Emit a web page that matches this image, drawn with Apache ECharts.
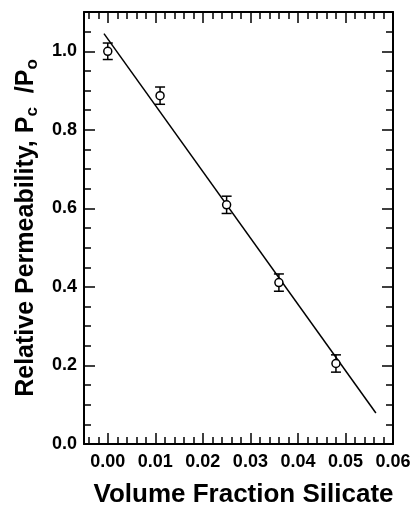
<!DOCTYPE html>
<html>
<head>
<meta charset="utf-8">
<script src="https://cdn.jsdelivr.net/npm/echarts@6/dist/echarts.min.js"></script>
<style>
  html, body { margin: 0; padding: 0; background: #fff; }
  #box { width: 414px; height: 505px; }
</style>
</head>
<body>
<div id="box"></div>
<script>
// measured points (volume fraction, relative permeability, error)
var volumeFraction = [0.000, 0.011, 0.025, 0.036, 0.048];
var permeability = [1.000, 0.887, 0.609, 0.411, 0.205];
var errorBar = [0.021, 0.022, 0.022, 0.022, 0.022];

// linear fit end points
var fitX = [-0.0008, 0.0564];
var fitY = [1.045, 0.079];

var xTickLabels = [0.00, 0.01, 0.02, 0.03, 0.04, 0.05, 0.06];
var yTickLabels = [0.0, 0.2, 0.4, 0.6, 0.8, 1.0];

// minor ticks
var xMinor = [];
for (var i = -2; i <= 29; i++) {
    if (i % 5 !== 0) xMinor.push(Math.round(i * 2) / 1000);
}
var yMinor = [];
for (var j = 1; j <= 21; j++) {
    if (j % 4 !== 0) yMinor.push(Math.round(j * 5) / 100);
}

var FONT = 'Liberation Sans';
var X_MIN = -0.005, X_MAX = 0.06, Y_MIN = 0, Y_MAX = 1.1;

function tickAxis(pos, values, len, withLine, extra) {
    var ax = {
        type: 'value',
        position: pos,
        min: pos === 'left' || pos === 'right' ? Y_MIN : X_MIN,
        max: pos === 'left' || pos === 'right' ? Y_MAX : X_MAX,
        splitLine: { show: false },
        axisLine: { show: withLine, onZero: false, lineStyle: { color: '#000', width: 2 } },
        axisTick: { show: true, inside: true, length: len, customValues: values, lineStyle: { color: '#000', width: 1.5 } },
        axisLabel: { show: false }
    };
    for (var k in extra) ax[k] = extra[k];
    return ax;
}

var chart = echarts.init(document.getElementById('box'));

var xData = volumeFraction.map(function (x, i) { return [x, permeability[i]]; });
var errData = volumeFraction.map(function (x, i) {
    return [x, permeability[i] - errorBar[i], permeability[i] + errorBar[i]];
});
var fitData = fitX.map(function (x, i) { return [x, fitY[i]]; });

var option = {
    animation: false,
    backgroundColor: '#fff',
    grid: { left: 84, right: 21, top: 12, bottom: 61, outerBoundsMode: 'none' },
    xAxis: [
        tickAxis('bottom', xTickLabels, 11, true, {
            name: 'Volume Fraction Silicate',
            nameLocation: 'middle',
            nameGap: 38,
            nameTextStyle: { fontFamily: FONT, fontWeight: 'bold', fontSize: 26, color: '#000', padding: [0, 0, 0, 10] },
            axisLabel: {
                show: true, customValues: xTickLabels, margin: 9,
                fontFamily: FONT, fontWeight: 'bold', fontSize: 18, color: '#000',
                formatter: function (v) { return v.toFixed(2); }
            }
        }),
        tickAxis('bottom', xMinor, 7, false, {}),
        tickAxis('top', xTickLabels, 11, true, {}),
        tickAxis('top', xMinor, 7, false, {})
    ],
    yAxis: [
        tickAxis('left', yTickLabels, 11, true, {
            name: '{a|Relative Permeability, P}{s|c}{a|  /P}{s|o}',
            nameLocation: 'middle',
            nameRotate: 90,
            nameGap: 43,
            nameTextStyle: {
                rich: {
                    a: { fontFamily: FONT, fontWeight: 'bold', fontSize: 25, color: '#000', lineHeight: 30 },
                    s: { fontFamily: FONT, fontWeight: 'bold', fontSize: 17, color: '#000', lineHeight: 16, verticalAlign: 'bottom' }
                }
            },
            axisLabel: {
                show: true, customValues: yTickLabels, margin: 7,
                fontFamily: FONT, fontWeight: 'bold', fontSize: 18, color: '#000',
                formatter: function (v) { return v.toFixed(1); }
            }
        }),
        tickAxis('left', yMinor, 7, false, {}),
        tickAxis('right', yTickLabels, 11, true, {}),
        tickAxis('right', yMinor, 7, false, {})
    ],
    series: [
        {
            type: 'line',
            data: fitData,
            symbol: 'none',
            lineStyle: { color: '#000', width: 1.5 },
            z: 2
        },
        {
            type: 'custom',
            data: errData,
            z: 3,
            renderItem: function (params, api) {
                var x = api.value(0);
                var lo = api.coord([x, api.value(1)]);
                var hi = api.coord([x, api.value(2)]);
                var w = 5;
                var st = { stroke: '#000', lineWidth: 1.5 };
                return {
                    type: 'group',
                    children: [
                        { type: 'line', shape: { x1: hi[0], y1: hi[1], x2: lo[0], y2: lo[1] }, style: st },
                        { type: 'line', shape: { x1: hi[0] - w, y1: hi[1], x2: hi[0] + w, y2: hi[1] }, style: st },
                        { type: 'line', shape: { x1: lo[0] - w, y1: lo[1], x2: lo[0] + w, y2: lo[1] }, style: st }
                    ]
                };
            }
        },
        {
            type: 'scatter',
            data: xData,
            symbol: 'circle',
            symbolSize: 8,
            itemStyle: { color: '#fff', borderColor: '#000', borderWidth: 1.5, opacity: 1 },
            z: 4
        }
    ]
};
chart.setOption(option);
</script>
</body>
</html>
